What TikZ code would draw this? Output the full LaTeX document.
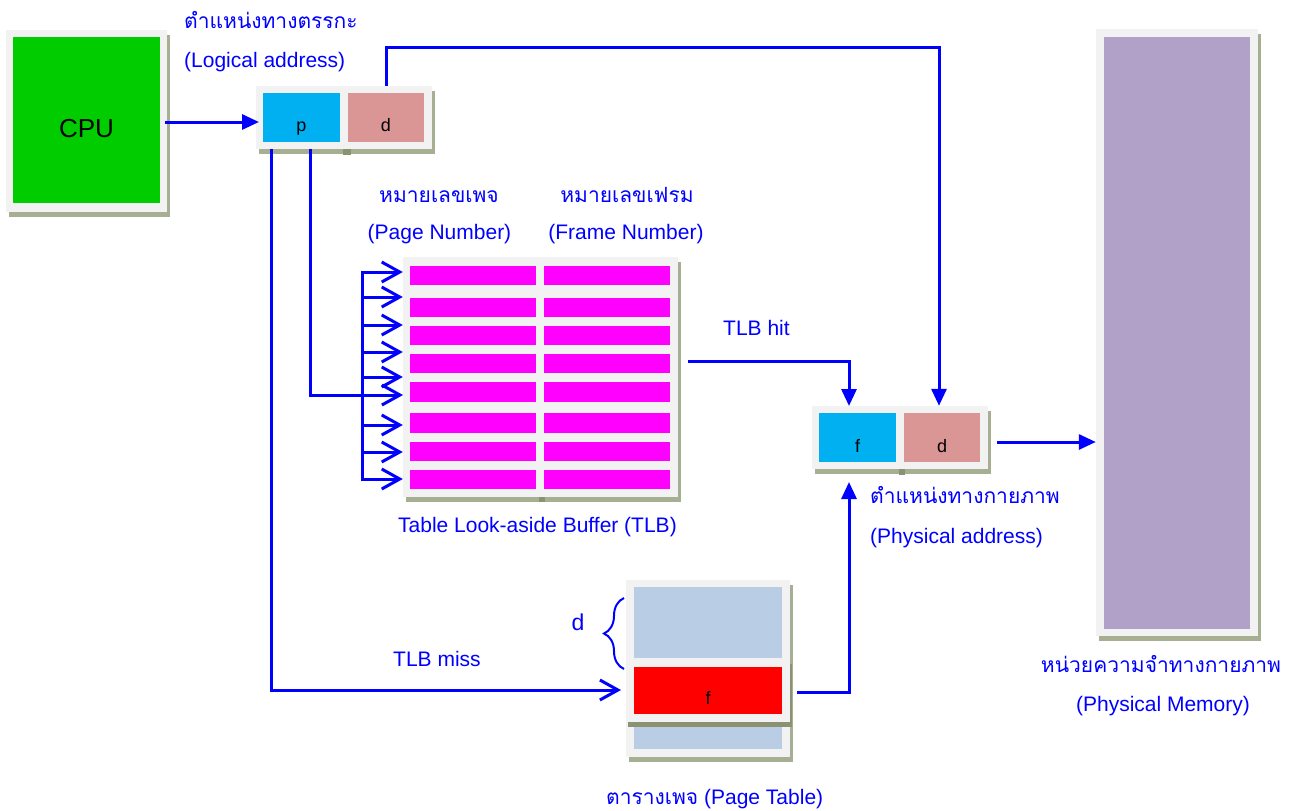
\documentclass[tikz,border=0pt]{standalone}
\usepackage{fontspec}
\setmainfont{Liberation Sans}
\newfontfamily\thai[Script=Thai]{Loma}
\usetikzlibrary{arrows.meta,decorations.pathreplacing,shadows}
\definecolor{frame}{HTML}{F2F2F2}
\definecolor{shade}{HTML}{A7AF92}
\definecolor{shadedark}{HTML}{8A9272}
\definecolor{cpugreen}{HTML}{00CC00}
\definecolor{pblue}{HTML}{00B0F0}
\definecolor{dpink}{HTML}{D99694}
\definecolor{tlbpink}{HTML}{FF00FF}
\definecolor{ptblue}{HTML}{B9CDE5}
\definecolor{ptred}{HTML}{FF0000}
\definecolor{mempurple}{HTML}{B1A0C7}
\definecolor{ink}{HTML}{0000FF}

\begin{document}
\begin{tikzpicture}[x=1pt,y=-1pt,
  panel/.style={fill=frame, draw=none, inner sep=0pt,
    drop shadow={fill=shade, opacity=1, shadow xshift=3pt, shadow yshift=-5pt}},
  flatpanel/.style={fill=frame, draw=none, inner sep=0pt},
  slab/.style={draw=none, inner sep=0pt},
  cell/.style={draw=none, inner sep=0pt, font=\fontsize{18}{20}\selectfont,
    text height=27pt, text depth=0pt},
  wire/.style={draw=ink, line width=3pt},
  fa/.style={wire, -{Triangle[length=17pt,width=15pt]}},
  oa/.style={wire, -{Straight Barb[length=18pt,width=20pt]}},
  lbl/.style={text=ink, inner sep=0pt, font=\fontsize{21}{25}\selectfont},
  tlbl/.style={text=ink, inner sep=0pt, font=\thai\fontsize{21}{25}\selectfont},
]
\useasboundingbox (0,0) rectangle (1293,811);

% ---------- CPU ----------
\node[panel, minimum width=161pt, minimum height=182pt] (cpuF) at (86.5,121) {};
\node[cell, fill=cpugreen, minimum width=147pt, minimum height=166pt,
  font=\fontsize{26}{30}\selectfont, text height=34pt] (cpu) at (86.5,120) {CPU};

% ---------- logical address ----------
\node[panel, minimum width=176pt, minimum height=63pt] (logF) at (344,117.5) {};
\fill[shadedark] (343,149) rectangle (351,155);
\node[cell, fill=pblue, minimum width=77pt, minimum height=49pt] (p) at (301.5,117.5) {p};
\node[cell, fill=dpink, minimum width=76pt, minimum height=49pt] (d) at (386,117.5) {d};

% ---------- TLB ----------
\node[panel, minimum width=275pt, minimum height=240pt] (tlbF) at (540.5,377) {};
\fill[shadedark] (539,497) rectangle (545,502);
\foreach \i/\y in {1/275.5,2/307.5,3/335.5,4/363.5,5/392,6/423,7/451.5,8/479.5}{
  \node[slab, fill=tlbpink, minimum width=126pt, minimum height=19.5pt] (pg\i) at (473,\y) {};
  \node[slab, fill=tlbpink, minimum width=126pt, minimum height=19.5pt] (fr\i) at (607,\y) {};
}

% ---------- physical address ----------
\node[panel, minimum width=176pt, minimum height=63pt] (pF) at (900,437.5) {};
\fill[shadedark] (899,469) rectangle (905,475);
\node[cell, fill=pblue, minimum width=77pt, minimum height=49pt, text height=29pt] (pf) at (857.5,437.5) {f};
\node[cell, fill=dpink, minimum width=76pt, minimum height=49pt, text height=29pt] (pd) at (942,437.5) {d};

% ---------- physical memory ----------
\node[panel, minimum width=162pt, minimum height=607pt] (memF) at (1177,332.5) {};
\node[slab, fill=mempurple, minimum width=146pt, minimum height=592pt] (mem) at (1177,333) {};

% ---------- page table ----------
\node[panel, minimum width=164pt, minimum height=177pt] (ptF) at (708,668.5) {};
\node[slab, fill=ptblue, minimum width=148pt, minimum height=71pt] (ptTop) at (708,622.5) {};
\node[slab, fill=ptblue, minimum width=148pt, minimum height=22pt] (ptBot) at (708,738) {};
\fill[shadedark] (628,664) rectangle (792,727);
\node[flatpanel, minimum width=164pt, minimum height=62pt] (ptRow) at (708,691) {};
\node[cell, fill=ptred, minimum width=148pt, minimum height=47pt] (ptf) at (708,690.5) {f};

% brace marking the offset d inside the page table
\draw[ink, line width=2pt, decorate, decoration={brace, amplitude=20pt}]
  (624,669) -- (624,598);
\node[anchor=base, text=ink, inner sep=0pt, font=\fontsize{23}{26}\selectfont] (dOff) at (578,630) {d};

% ---------- connectors ----------
\coordinate (cpuOut) at (165,122);
\coordinate (pIn) at (259,122);
\draw[fa] (cpuOut) -- (pIn);

\coordinate (dTop) at (939,47);
\draw[fa] (d.north |- logF.north) |- (dTop) -- (dTop |- pF.north);

\coordinate (pMiss) at (271,149);
\coordinate (pHit) at (310,149);
\coordinate (missEnd) at (621,690);
\draw[oa] (pMiss) |- (missEnd);
\coordinate (hitIn) at (403,395);
\draw[oa] (pHit) |- (hitIn);

% distribution bus in front of the TLB
\draw[wire, line cap=rect] (362,272) -- (362,479);
\foreach \y [count=\k] in {272,297,325,352,377,425,452,479}{
  \coordinate (bus\k) at (362,\y);
  \coordinate (busEnd\k) at (tlbF.west |- 0,\y);
  \draw[oa] (bus\k) -- (busEnd\k);
}

\coordinate (hitOut) at (688,361);
\coordinate (hitEnd) at (849,406);
\draw[fa] (hitOut) -| (hitEnd);

\coordinate (ptOut) at (797,692);
\coordinate (ptEnd) at (849,482);
\draw[fa] (ptOut) -| (ptEnd);

\coordinate (paOut) at (997,442);
\draw[fa] (paOut) -- (memF.west |- paOut);

% ---------- labels ----------
\node[tlbl, anchor=base west] (lThai) at (184,28) {ตำแหน่งทางตรรกะ};
\node[lbl, anchor=base west] (lEng) at (184,67) {(Logical address)};

\node[tlbl, anchor=base] (pnThai) at (439,202) {หมายเลขเพจ};
\node[lbl, anchor=base] (pnEng) at (439.5,239) {(Page Number)};
\node[tlbl, anchor=base] (fnThai) at (627,202) {หมายเลขเฟรม};
\node[lbl, anchor=base] (fnEng) at (626,239) {(Frame Number)};

\node[lbl, anchor=base west] (hitL) at (723,335) {TLB hit};
\node[lbl, anchor=base west] (tlbL) at (398,532) {Table Look-aside Buffer (TLB)};
\node[lbl, anchor=base west] (missL) at (393,666) {TLB miss};

\node[tlbl, anchor=base west] (paThai) at (870,503) {ตำแหน่งทางกายภาพ};
\node[lbl, anchor=base west] (paEng) at (870,543.5) {(Physical address)};

\node[tlbl, anchor=base] (pmThai) at (1161,672) {หน่วยความจำทางกายภาพ};
\node[lbl, anchor=base] (pmEng) at (1163,711) {(Physical Memory)};

\node[lbl, anchor=base west] (ptL) at (606,804) {{\thai ตารางเพจ} (Page Table)};
\end{tikzpicture}
\end{document}
